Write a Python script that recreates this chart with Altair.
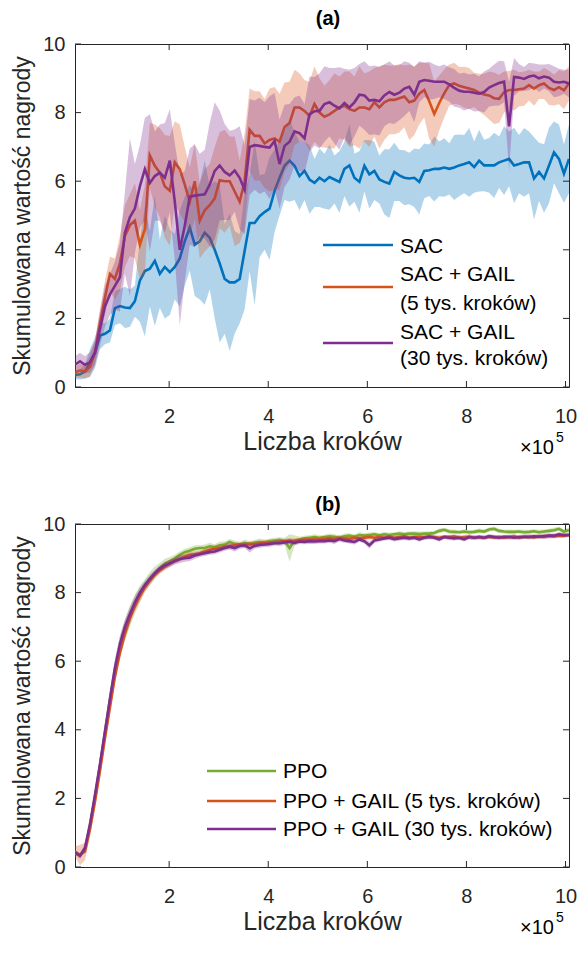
import altair as alt
import pandas as pd

# x grid (in units of 1e5 steps)
N = 100
X = [round(0.1 + i * 0.1007, 4) for i in range(N)]
XT = [2, 4, 6, 8, 10]
YT = [0, 2, 4, 6, 8, 10]

# ---------------- panel (a) ----------------
SAC_MEAN = [0.35, 0.37, 0.45, 0.7, 1.0, 1.5, 1.55, 1.65, 2.3, 2.36,
            2.32, 2.3, 2.5, 3.1, 3.38, 3.45, 3.68, 3.3, 3.5, 3.35,
            3.5, 3.75, 4.25, 4.65, 4.15, 4.25, 4.5, 4.35, 4.0, 3.6,
            3.15, 3.05, 3.05, 3.15, 3.97, 4.78, 4.78, 4.98, 5.1, 5.2,
            5.72, 6.1, 6.45, 6.6, 6.45, 6.15, 6.3, 6.05, 5.95, 6.1,
            6.0, 6.12, 6.05, 5.98, 6.36, 6.46, 6.1, 5.98, 6.45, 6.2,
            6.3, 6.05, 5.98, 5.93, 6.27, 6.17, 6.1, 6.08, 6.1, 5.98,
            6.3, 6.32, 6.36, 6.36, 6.4, 6.36, 6.4, 6.46, 6.5, 6.55,
            6.41, 6.6, 6.46, 6.46, 6.46, 6.55, 6.6, 6.65, 6.46, 6.5,
            6.55, 6.55, 6.08, 6.27, 6.08, 6.46, 6.84, 6.65, 6.22, 6.65]
SAC_SD = [0.12, 0.15, 0.2, 0.4, 0.45, 0.4, 0.3, 0.35, 0.5, 0.5,
          0.6, 0.55, 0.45, 1.2, 1.9, 1.1, 1.9, 1.0, 1.5, 1.25,
          0.95, 1.4, 1.3, 1.25, 1.5, 1.7, 2.1, 1.5, 2.0, 2.3,
          1.6, 2.0, 1.5, 1.3, 1.7, 1.4, 2.4, 1.2, 1.1, 1.5,
          1.2, 1.1, 1.0, 1.2, 1.0, 1.0, 0.85, 1.0, 0.7, 0.85,
          0.8, 0.95, 0.7, 0.9, 0.8, 1.2, 0.7, 0.9, 0.75, 1.0,
          0.85, 0.7, 0.95, 1.0, 0.85, 0.75, 0.8, 0.75, 0.85, 0.95,
          0.8, 0.75, 0.95, 0.8, 0.85, 0.75, 0.95, 0.9, 0.85, 1.0,
          0.75, 0.9, 0.75, 0.8, 0.95, 0.75, 1.0, 0.8, 1.1, 0.85,
          1.0, 0.9, 1.2, 0.85, 1.0, 1.1, 0.9, 1.0, 0.85, 1.0]

GAIL5_MEAN = [0.42, 0.48, 0.45, 0.6, 1.0, 1.85, 2.6, 3.3, 3.15, 3.6,
              4.4, 4.72, 4.85, 4.15, 4.6, 6.75, 6.45, 6.25, 5.85, 5.72,
              6.55, 6.35, 5.9, 5.4, 6.0, 4.85, 5.15, 5.3, 5.5, 6.03,
              6.0, 6.0, 5.7, 5.4, 6.0, 7.5, 7.32, 7.32, 7.1, 7.2,
              7.25, 7.15, 7.58, 7.7, 8.15, 8.15, 8.05, 7.9, 8.25, 8.0,
              7.88, 7.95, 8.05, 8.15, 8.2, 8.1, 8.05, 8.15, 8.15, 8.1,
              8.3, 8.15, 8.3, 8.37, 8.37, 8.42, 8.47, 8.3, 8.35, 8.55,
              8.66, 8.33, 7.96, 8.28, 8.56, 8.8, 8.85, 8.78, 8.74, 8.7,
              8.66, 8.58, 8.53, 8.5, 8.42, 8.4, 8.6, 8.66, 8.66, 8.68,
              8.7, 8.8, 8.7, 8.8, 8.85, 8.72, 8.66, 8.74, 8.65, 8.85]
GAIL5_SD = [0.15, 0.2, 0.2, 0.3, 0.35, 0.4, 0.5, 0.5, 0.6, 0.8,
            0.9, 0.9, 1.1, 1.0, 1.3, 0.95, 1.2, 1.3, 1.5, 1.6,
            1.2, 1.3, 1.1, 1.0, 1.1, 1.1, 1.2, 1.2, 1.5, 1.4,
            1.5, 1.3, 1.6, 1.2, 1.4, 1.2, 1.3, 1.3, 1.3, 1.5,
            1.5, 1.4, 1.3, 1.2, 1.1, 1.0, 0.9, 1.0, 1.1, 1.0,
            0.9, 1.0, 1.1, 0.9, 1.0, 1.1, 1.0, 1.2, 1.0, 1.1,
            1.0, 1.2, 1.1, 1.0, 1.0, 1.0, 0.9, 1.1, 1.0, 0.9,
            0.8, 1.1, 0.95, 0.8, 0.7, 0.6, 0.6, 0.55, 0.6, 0.6,
            0.5, 0.55, 0.6, 0.7, 0.75, 0.7, 0.6, 0.55, 0.6, 0.5,
            0.5, 0.45, 0.5, 0.4, 0.45, 0.5, 0.45, 0.5, 0.55, 0.5]

GAIL30_MEAN = [0.65, 0.75, 0.65, 0.72, 1.0, 1.7, 2.35, 2.7, 2.95, 3.2,
               4.5, 4.95, 5.2, 5.85, 6.35, 5.95, 6.15, 6.25, 6.1, 6.6,
               5.4, 4.0, 4.7, 5.55, 5.58, 5.6, 5.62, 5.9, 6.3, 6.46,
               6.27, 6.17, 6.31, 6.1, 5.75, 7.0, 7.05, 7.03, 7.0, 6.98,
               7.17, 6.5, 7.03, 7.15, 7.45, 7.4, 7.25, 7.95, 8.04, 8.05,
               8.25, 8.3, 8.2, 8.12, 8.28, 8.15, 8.3, 8.52, 8.5, 8.35,
               8.37, 8.33, 8.5, 8.6, 8.52, 8.58, 8.7, 8.75, 8.52, 8.9,
               8.95, 8.93, 8.9, 8.9, 8.9, 8.82, 8.72, 8.64, 8.61, 8.61,
               8.58, 8.55, 8.6, 8.73, 8.8, 8.86, 8.9, 7.6, 9.04, 9.02,
               8.98, 9.05, 9.08, 9.0, 9.05, 9.02, 8.9, 8.88, 8.9, 8.85]
GAIL30_SD = [0.25, 0.25, 0.25, 0.3, 0.35, 0.5, 0.6, 0.6, 0.7, 1.0,
             1.2, 2.3, 1.3, 1.2, 1.5, 2.0, 1.3, 1.4, 1.6, 1.5,
             1.7, 2.2, 1.6, 1.4, 1.5, 1.2, 1.3, 1.8, 2.0, 1.6,
             1.4, 1.3, 1.2, 1.5, 1.3, 1.4, 1.3, 1.4, 1.3, 1.5,
             1.4, 1.3, 1.2, 1.1, 1.0, 1.1, 1.0, 1.1, 1.0, 1.1,
             1.1, 1.0, 1.1, 1.2, 1.0, 1.1, 1.0, 0.9, 1.0, 1.0,
             1.0, 1.0, 0.9, 0.9, 0.85, 0.8, 0.8, 0.7, 0.8, 0.6,
             0.5, 0.55, 0.5, 0.45, 0.5, 0.5, 0.55, 0.5, 0.55, 0.5,
             0.55, 0.5, 0.6, 0.55, 0.6, 0.65, 0.6, 1.3, 0.55, 0.4,
             0.35, 0.4, 0.35, 0.4, 0.35, 0.4, 0.45, 0.4, 0.35, 0.4]

# ---------------- panel (b) ----------------
PPO_MEAN = [0.4, 0.33, 0.55, 1.2, 2.05, 2.95, 3.9, 4.85, 5.7, 6.4,
            6.92, 7.32, 7.66, 7.95, 8.2, 8.4, 8.58, 8.72, 8.84, 8.92,
            9.0, 9.1, 9.18, 9.22, 9.28, 9.3, 9.3, 9.35, 9.33, 9.38,
            9.4, 9.48, 9.42, 9.4, 9.45, 9.42, 9.46, 9.48, 9.47, 9.5,
            9.52, 9.54, 9.5, 9.3, 9.52, 9.55, 9.58, 9.6, 9.62, 9.6,
            9.62, 9.64, 9.63, 9.6, 9.64, 9.66, 9.63, 9.68, 9.66, 9.68,
            9.7, 9.67, 9.7, 9.68, 9.7, 9.72, 9.7, 9.72, 9.72, 9.71,
            9.72, 9.72, 9.74, 9.8, 9.83, 9.78, 9.77, 9.76, 9.78, 9.76,
            9.77, 9.8, 9.78, 9.84, 9.86, 9.8, 9.78, 9.77, 9.77, 9.78,
            9.76, 9.77, 9.79, 9.76, 9.78, 9.8, 9.82, 9.86, 9.78, 9.82]
PPO_SD = [0.05, 0.08, 0.1, 0.15, 0.2, 0.25, 0.3, 0.3, 0.3, 0.3,
          0.3, 0.3, 0.28, 0.25, 0.2, 0.2, 0.18, 0.15, 0.15, 0.12,
          0.1, 0.1, 0.1, 0.1, 0.1, 0.08, 0.1, 0.1, 0.08, 0.1,
          0.1, 0.08, 0.1, 0.08, 0.1, 0.08, 0.08, 0.1, 0.08, 0.08,
          0.08, 0.08, 0.1, 0.4, 0.15, 0.08, 0.08, 0.07, 0.08, 0.07,
          0.07, 0.08, 0.07, 0.07, 0.08, 0.07, 0.07, 0.08, 0.07, 0.07,
          0.07, 0.06, 0.07, 0.07, 0.06, 0.07, 0.07, 0.06, 0.07, 0.07,
          0.06, 0.07, 0.06, 0.07, 0.06, 0.07, 0.06, 0.06, 0.07, 0.06,
          0.06, 0.07, 0.06, 0.06, 0.07, 0.06, 0.06, 0.07, 0.06, 0.06,
          0.07, 0.06, 0.06, 0.07, 0.06, 0.06, 0.07, 0.06, 0.06, 0.07]

PPO5_MEAN = [0.45, 0.35, 0.45, 1.1, 1.9, 2.8, 3.75, 4.65, 5.55, 6.25,
             6.8, 7.25, 7.6, 7.9, 8.15, 8.35, 8.52, 8.65, 8.75, 8.85,
             8.92, 8.98, 9.05, 9.1, 9.12, 9.15, 9.2, 9.25, 9.28, 9.3,
             9.33, 9.36, 9.38, 9.4, 9.38, 9.42, 9.41, 9.43, 9.45, 9.44,
             9.46, 9.48, 9.5, 9.52, 9.5, 9.53, 9.55, 9.54, 9.56, 9.55,
             9.57, 9.58, 9.56, 9.6, 9.58, 9.57, 9.6, 9.58, 9.6, 9.62,
             9.6, 9.62, 9.6, 9.63, 9.6, 9.62, 9.64, 9.6, 9.62, 9.63,
             9.61, 9.64, 9.62, 9.6, 9.63, 9.62, 9.64, 9.6, 9.62, 9.63,
             9.6, 9.62, 9.6, 9.63, 9.61, 9.62, 9.6, 9.62, 9.64, 9.6,
             9.62, 9.63, 9.61, 9.64, 9.62, 9.65, 9.64, 9.66, 9.65, 9.68]
PPO5_SD = [0.15, 0.3, 0.25, 0.2, 0.2, 0.2, 0.2, 0.2, 0.2, 0.2,
           0.2, 0.18, 0.15, 0.15, 0.12, 0.12, 0.1, 0.1, 0.1, 0.1,
           0.08, 0.08, 0.08, 0.08, 0.08, 0.08, 0.08, 0.07, 0.08, 0.07,
           0.07, 0.08, 0.07, 0.07, 0.08, 0.07, 0.07, 0.07, 0.08, 0.07,
           0.07, 0.07, 0.07, 0.07, 0.08, 0.07, 0.07, 0.07, 0.06, 0.07,
           0.07, 0.06, 0.07, 0.07, 0.06, 0.07, 0.07, 0.06, 0.07, 0.07,
           0.06, 0.07, 0.07, 0.06, 0.07, 0.06, 0.07, 0.07, 0.06, 0.07,
           0.06, 0.07, 0.06, 0.07, 0.06, 0.07, 0.06, 0.07, 0.06, 0.07,
           0.07, 0.06, 0.07, 0.06, 0.07, 0.06, 0.07, 0.06, 0.07, 0.06,
           0.06, 0.07, 0.06, 0.07, 0.06, 0.07, 0.06, 0.07, 0.06, 0.06]

PPO30_MEAN = [0.42, 0.33, 0.55, 1.25, 2.1, 3.0, 3.95, 4.9, 5.8, 6.5,
              7.0, 7.38, 7.72, 8.0, 8.22, 8.4, 8.56, 8.7, 8.8, 8.85,
              8.92, 8.98, 9.0, 9.02, 9.08, 9.12, 9.15, 9.18, 9.2, 9.25,
              9.3, 9.34, 9.3, 9.36, 9.38, 9.29, 9.36, 9.39, 9.4, 9.42,
              9.44, 9.44, 9.46, 9.48, 9.45, 9.49, 9.48, 9.5, 9.49, 9.5,
              9.5, 9.52, 9.5, 9.56, 9.52, 9.5, 9.48, 9.55, 9.5, 9.38,
              9.52, 9.55, 9.58, 9.6, 9.56, 9.58, 9.6, 9.58, 9.6, 9.55,
              9.6, 9.62, 9.6, 9.55, 9.62, 9.6, 9.58, 9.6, 9.55, 9.62,
              9.6, 9.62, 9.6, 9.64, 9.62, 9.6, 9.63, 9.62, 9.6, 9.62,
              9.63, 9.62, 9.64, 9.63, 9.65, 9.66, 9.66, 9.7, 9.68, 9.68]
PPO30_SD = [0.05, 0.08, 0.1, 0.15, 0.15, 0.2, 0.2, 0.25, 0.25, 0.25,
            0.2, 0.2, 0.18, 0.15, 0.12, 0.12, 0.1, 0.1, 0.1, 0.1,
            0.1, 0.12, 0.1, 0.1, 0.1, 0.08, 0.08, 0.08, 0.08, 0.08,
            0.08, 0.08, 0.1, 0.08, 0.08, 0.12, 0.08, 0.08, 0.07, 0.08,
            0.07, 0.08, 0.07, 0.07, 0.08, 0.07, 0.07, 0.08, 0.07, 0.07,
            0.07, 0.07, 0.08, 0.07, 0.07, 0.07, 0.08, 0.07, 0.07, 0.1,
            0.07, 0.07, 0.06, 0.07, 0.07, 0.06, 0.07, 0.07, 0.06, 0.07,
            0.06, 0.07, 0.06, 0.07, 0.06, 0.07, 0.06, 0.07, 0.06, 0.07,
            0.06, 0.07, 0.06, 0.07, 0.06, 0.07, 0.06, 0.07, 0.06, 0.07,
            0.06, 0.07, 0.06, 0.06, 0.07, 0.06, 0.06, 0.07, 0.06, 0.06]

BLUE, ORANGE, PURPLE, GREEN = "#0072BD", "#D95319", "#7E2F8E", "#77AC30"
FONT = "Liberation Sans"
TXT = "#262626"
W, H = 494, 343
XSCALE = alt.Scale(domain=[0.1, 10.07], nice=False, zero=False)
YSCALE = alt.Scale(domain=[0, 10], nice=False, zero=False)


def series_df(mean, sd):
    return pd.DataFrame({
        "x": X,
        "y": mean,
        "lo": [m - s for m, s in zip(mean, sd)],
        "hi": [m + s for m, s in zip(mean, sd)],
    })


def data_layers(series):
    layers = []
    for mean, sd, color in series:
        d = series_df(mean, sd)
        band = alt.Chart(d).mark_area(color=color, opacity=0.3, clip=True).encode(
            x=alt.X("x:Q", scale=XSCALE, axis=None),
            y=alt.Y("lo:Q", scale=YSCALE, axis=None),
            y2="hi:Q",
        )
        line = alt.Chart(d).mark_line(color=color, strokeWidth=2.6, clip=True).encode(
            x=alt.X("x:Q", scale=XSCALE, axis=None),
            y=alt.Y("y:Q", scale=YSCALE, axis=None),
        )
        layers += [band, line]
    return layers


def axis_layers(d0):
    lab = alt.Chart(d0).mark_point(opacity=0).encode(
        x=alt.X("x:Q", scale=XSCALE, axis=alt.Axis(
            values=XT, orient="bottom", ticks=False, tickSize=0, domain=False, grid=False,
            labelFontSize=20, labelPadding=19, labelColor=TXT, labelFlush=False, format="d",
            title="Liczba kroków", titleFontSize=25, titleFontWeight="normal",
            titleColor=TXT, titlePadding=3)),
        y=alt.Y("y:Q", scale=YSCALE, axis=alt.Axis(
            values=YT, orient="left", ticks=False, tickSize=0, domain=False, grid=False,
            labelFontSize=20, labelPadding=10, labelColor=TXT, labelFlush=False, format="d",
            title="Skumulowana wartość nagrody", titleFontSize=23, titleFontWeight="normal",
            titleColor=TXT, titlePadding=8)),
    )
    xt = pd.DataFrame({"v": XT})
    yt = pd.DataFrame({"v": YT})
    xv = alt.X("v:Q", scale=XSCALE, axis=None)
    yv = alt.Y("v:Q", scale=YSCALE, axis=None)
    tick = dict(color=TXT, strokeWidth=1)
    t_bottom = alt.Chart(xt).mark_rule(**tick).encode(x=xv, y=alt.value(H - 6), y2=alt.value(H))
    t_top = alt.Chart(xt).mark_rule(**tick).encode(x=xv, y=alt.value(0), y2=alt.value(6))
    t_left = alt.Chart(yt).mark_rule(**tick).encode(y=yv, x=alt.value(0), x2=alt.value(6))
    t_right = alt.Chart(yt).mark_rule(**tick).encode(y=yv, x=alt.value(W - 6), x2=alt.value(W))
    return [lab, t_bottom, t_top, t_left, t_right]


def txt(text, x, y, size=21, align="left", weight="normal"):
    return alt.Chart(pd.DataFrame({"t": [text]})).mark_text(
        align=align, baseline="middle", fontSize=size, color="black", font=FONT,
        fontWeight=weight
    ).encode(text="t:N", x=alt.value(x), y=alt.value(y))


def rule(color, x1, x2, y):
    return alt.Chart(pd.DataFrame({"k": [0]})).mark_rule(color=color, strokeWidth=2.6).encode(
        x=alt.value(x1), x2=alt.value(x2), y=alt.value(y))


def exponent():
    return [txt("×10", W - 15, H + 61, 20, "right"), txt("5", W - 13, H + 51, 14)]


# legend / title texts
LEG_A = ["SAC", "SAC + GAIL", "(5 tys. kroków)", "SAC + GAIL", "(30 tys. kroków)"]
LEG_B = ["PPO", "PPO + GAIL (5 tys. kroków)", "PPO + GAIL (30 tys. kroków)"]
TITLES = ["(a)", "(b)"]

d0 = series_df(SAC_MEAN, SAC_SD)

layers_a = data_layers([(SAC_MEAN, SAC_SD, BLUE), (GAIL5_MEAN, GAIL5_SD, ORANGE),
                        (GAIL30_MEAN, GAIL30_SD, PURPLE)])
legend_a = [
    rule(BLUE, 248, 318, 201), txt(LEG_A[0], 325, 203),
    rule(ORANGE, 248, 318, 243), txt(LEG_A[1], 325, 231), txt(LEG_A[2], 325, 260),
    rule(PURPLE, 248, 318, 299), txt(LEG_A[3], 325, 289), txt(LEG_A[4], 325, 315),
]
panel_a = alt.layer(*(layers_a + axis_layers(d0) + legend_a + exponent()
                      + [txt(TITLES[0], W / 2 + 6, -25, 20, "center", "bold")])).resolve_axis(
    x="independent", y="independent").properties(width=W, height=H)

layers_b = data_layers([(PPO_MEAN, PPO_SD, GREEN), (PPO5_MEAN, PPO5_SD, ORANGE),
                        (PPO30_MEAN, PPO30_SD, PURPLE)])
legend_b = [
    rule(GREEN, 132, 201, 247), txt(LEG_B[0], 208, 248),
    rule(ORANGE, 132, 201, 277), txt(LEG_B[1], 208, 278),
    rule(PURPLE, 132, 201, 305), txt(LEG_B[2], 208, 306),
]
panel_b = alt.layer(*(layers_b + axis_layers(series_df(PPO_MEAN, PPO_SD)) + legend_b + exponent()
                      + [txt(TITLES[1], W / 2 + 6, -19, 20, "center", "bold")])).resolve_axis(
    x="independent", y="independent").properties(width=W, height=H)

chart = alt.vconcat(panel_a, panel_b, spacing=35).properties(
    padding={"left": 3, "top": 0, "right": 0, "bottom": 0}).configure_view(
    stroke=TXT, strokeWidth=1).configure_axis(labelFont=FONT, titleFont=FONT)

chart.save("out.html", embed_options={"renderer": "svg", "actions": False})
